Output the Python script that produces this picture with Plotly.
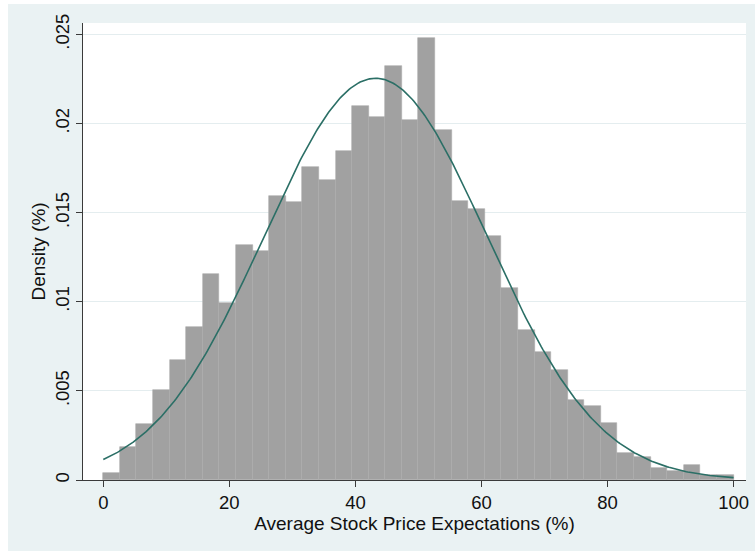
import numpy as np
import plotly.graph_objects as go

# ---- data ----
bin_start = 0.0
bin_width = 100.0 / 38
density = [
    0.00038, 0.00186, 0.00314, 0.00506, 0.00676, 0.00857, 0.01154, 0.00994,
    0.01317, 0.01285, 0.01595, 0.01561, 0.01755, 0.01684, 0.01846, 0.02099,
    0.02039, 0.02321, 0.02020, 0.02482, 0.01966, 0.01565, 0.01520, 0.01367,
    0.01080, 0.00844, 0.00720, 0.00618, 0.00449, 0.00417, 0.00320, 0.00149,
    0.00127, 0.00067, 0.00051, 0.00083, 0.00026, 0.00026,
]
normal_mean = 43.2
normal_sd = 17.7
x_ticks = [0, 20, 40, 60, 80, 100]
y_ticks = [0, 0.005, 0.01, 0.015, 0.02, 0.025]
y_tick_labels = ["0", ".005", ".01", ".015", ".02", ".025"]
x_title = "Average Stock Price Expectations (%)"
y_title = "Density (%)"

# ---- figure ----
centers = [bin_start + bin_width * (i + 0.5) for i in range(len(density))]
xs = np.linspace(0, 100, 401)
pdf = np.exp(-0.5 * ((xs - normal_mean) / normal_sd) ** 2) / (normal_sd * np.sqrt(2 * np.pi))

FONT = "Liberation Sans, Arial, sans-serif"
BG = "#EAF2F3"
AXIS = "#3a3a3a"

fig = go.Figure()
fig.add_trace(go.Bar(
    x=centers, y=density, width=bin_width,
    marker=dict(color="#A1A1A1", line=dict(color="#ABABAB", width=0.6)),
    hoverinfo="skip", showlegend=False,
))
fig.add_trace(go.Scatter(
    x=xs, y=pdf, mode="lines",
    line=dict(color="#2B6F66", width=1.6),
    hoverinfo="skip", showlegend=False,
))

# figure placed at (8, 4) in the page (see post_script)
W, H = 747, 547
ml, mr, mt, mb = 75, 9, 19, 71

fig.update_layout(
    width=W, height=H,
    margin=dict(l=ml, r=mr, t=mt, b=mb, pad=0, autoexpand=False),
    paper_bgcolor=BG, plot_bgcolor="white",
    bargap=0,
    font=dict(family=FONT, size=18.5, color="#111111"),
    xaxis=dict(
        range=[-3.22, 101.97], tickvals=x_ticks,
        automargin=False,
        showgrid=False, zeroline=False,
        showline=True, linecolor=AXIS, linewidth=1.2,
        ticks="outside", ticklen=6, tickwidth=1.2, tickcolor=AXIS,
        title=dict(text=x_title, standoff=1, font=dict(size=19)),
    ),
    yaxis=dict(
        range=[0, 0.02564], tickvals=y_ticks, ticktext=y_tick_labels,
        tickangle=-90,
        automargin=False,
        showgrid=True, gridcolor="#E4EDEF", gridwidth=1,
        zeroline=False,
        showline=True, linecolor=AXIS, linewidth=1.2,
        ticks="outside", ticklen=6, tickwidth=1.2, tickcolor=AXIS,
        title=dict(text=y_title, standoff=0, font=dict(size=19)),
    ),
)

fig.write_html(
    "out.html",
    post_script="document.body.style.margin='4px 0 0 8px';document.body.style.overflow='hidden';",
)
